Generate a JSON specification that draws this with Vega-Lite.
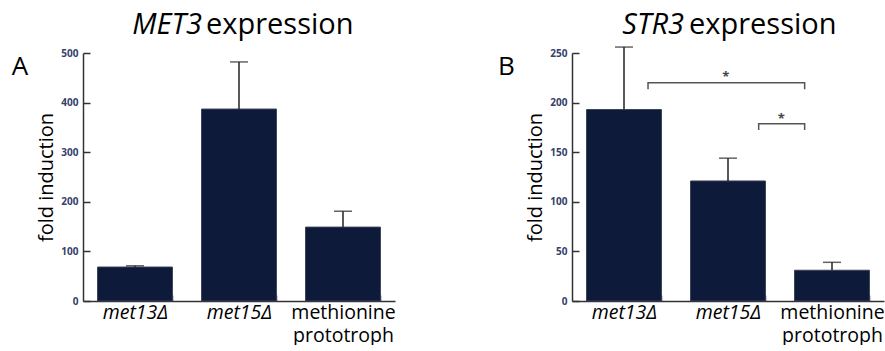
{
  "$schema": "https://vega.github.io/schema/vega-lite/v6.json",
  "background": "white",
  "padding": {"left": 11, "top": 11, "right": 0, "bottom": 0},
  "config": {
    "font": "Open Sans",
    "view": {"stroke": null},
    "concat": {"spacing": 102}
  },
  "hconcat": [
    {
      "width": 312,
      "height": 248,
      "layer": [
        {
          "data": {"values": [
            {"strain": "met13Δ", "fold": 68.5, "upper": 71},
            {"strain": "met15Δ", "fold": 387, "upper": 482},
            {"strain": "methionine prototroph", "fold": 149, "upper": 181}
          ]},
          "encoding": {
            "x": {"field": "strain", "type": "nominal", "sort": null,
              "scale": {"paddingInner": 0.28, "paddingOuter": 0.14},
              "axis": {"title": null, "labelAngle": 0, "domainColor": "#333", "domainWidth": 1.5, "tickColor": "#333", "tickWidth": 1.5, "tickSize": -6, "tickBand": "extent", "labelFontSize": 19.5, "labelColor": "#000", "labelPadding": 8, "labelLineHeight": 23.5, "labelExpr": "datum.value == 'methionine prototroph' ? ['methionine', 'prototroph'] : datum.value", "labelFontStyle": {"condition": {"test": "datum.value == 'methionine prototroph'", "value": "normal"}, "value": "italic"}}},
            "y": {"field": "fold", "type": "quantitative",
              "scale": {"domain": [0, 500], "nice": false},
              "axis": {"values": [0, 100, 200, 300, 400, 500], "grid": false, "title": "fold induction", "titleFontSize": 20, "titleFontWeight": "normal", "titleColor": "#000", "titlePadding": 4, "labelFontSize": 10, "labelFontWeight": "bold", "labelColor": "#34406a", "labelPadding": 12, "tickSize": -7, "tickWidth": 1.5, "tickColor": "#333", "domainColor": "#333", "domainWidth": 1.5}}
          },
          "layer": [
            {"mark": {"type": "bar", "color": "#0d1a3a", "stroke": "#3a4058", "strokeWidth": 1}},
            {"mark": {"type": "rule", "color": "#222", "strokeWidth": 1.5}, "encoding": {"y2": {"field": "upper"}}},
            {"mark": {"type": "tick", "color": "#222", "size": 18, "thickness": 1.5}, "encoding": {"y": {"field": "upper", "type": "quantitative"}}}
          ]
        },
        {
          "encoding": {
            "x": {"field": "q", "type": "quantitative", "scale": {"domain": [0, 3], "nice": false, "zero": false}, "axis": null},
            "y": {"field": "fold", "type": "quantitative"},
            "text": {"field": "t"}
          },
          "layer": [
            {"data": {"values": [{"t": "MET3", "q": 1.144, "fold": 538}]}, "mark": {"type": "text", "fontSize": 29, "fontStyle": "italic", "align": "right", "baseline": "alphabetic", "color": "#000"}},
            {"data": {"values": [{"t": "expression", "q": 1.183, "fold": 538}]}, "mark": {"type": "text", "fontSize": 29, "align": "left", "baseline": "alphabetic", "color": "#000"}},
            {"data": {"values": [{"t": "A", "q": -0.606, "fold": 455}]}, "mark": {"type": "text", "fontSize": 26, "align": "center", "baseline": "alphabetic", "color": "#000"}}
          ]
        }
      ],
      "resolve": {"scale": {"x": "independent"}, "axis": {"x": "independent"}}
    },
    {
      "width": 312,
      "height": 248,
      "layer": [
        {
          "data": {"values": [
            {"strain": "met13Δ", "fold": 193, "upper": 256},
            {"strain": "met15Δ", "fold": 121, "upper": 144},
            {"strain": "methionine prototroph", "fold": 31, "upper": 39}
          ]},
          "encoding": {
            "x": {"field": "strain", "type": "nominal", "sort": null,
              "scale": {"paddingInner": 0.28, "paddingOuter": 0.14},
              "axis": {"title": null, "labelAngle": 0, "domainColor": "#333", "domainWidth": 1.5, "tickColor": "#333", "tickWidth": 1.5, "tickSize": -6, "tickBand": "extent", "labelFontSize": 19.5, "labelColor": "#000", "labelPadding": 8, "labelLineHeight": 23.5, "labelExpr": "datum.value == 'methionine prototroph' ? ['methionine', 'prototroph'] : datum.value", "labelFontStyle": {"condition": {"test": "datum.value == 'methionine prototroph'", "value": "normal"}, "value": "italic"}}},
            "y": {"field": "fold", "type": "quantitative",
              "scale": {"domain": [0, 250], "nice": false},
              "axis": {"values": [0, 50, 100, 150, 200, 250], "grid": false, "title": "fold induction", "titleFontSize": 20, "titleFontWeight": "normal", "titleColor": "#000", "titlePadding": 4, "labelFontSize": 10, "labelFontWeight": "bold", "labelColor": "#34406a", "labelPadding": 12, "tickSize": -7, "tickWidth": 1.5, "tickColor": "#333", "domainColor": "#333", "domainWidth": 1.5}}
          },
          "layer": [
            {"mark": {"type": "bar", "color": "#0d1a3a", "stroke": "#3a4058", "strokeWidth": 1}},
            {"mark": {"type": "rule", "color": "#222", "strokeWidth": 1.5}, "encoding": {"y2": {"field": "upper"}}},
            {"mark": {"type": "tick", "color": "#222", "size": 18, "thickness": 1.5}, "encoding": {"y": {"field": "upper", "type": "quantitative"}}}
          ]
        },
        {
          "encoding": {
            "x": {"field": "q", "type": "quantitative", "scale": {"domain": [0, 3], "nice": false, "zero": false}, "axis": null},
            "y": {"field": "fold", "type": "quantitative"}
          },
          "layer": [
            {"data": {"values": [{"t": "STR3", "q": 1.077, "fold": 269}]}, "mark": {"type": "text", "fontSize": 29, "fontStyle": "italic", "align": "right", "baseline": "alphabetic", "color": "#000"}, "encoding": {"text": {"field": "t"}}},
            {"data": {"values": [{"t": "expression", "q": 1.125, "fold": 269}]}, "mark": {"type": "text", "fontSize": 29, "align": "left", "baseline": "alphabetic", "color": "#000"}, "encoding": {"text": {"field": "t"}}},
            {"data": {"values": [{"t": "B", "q": -0.63, "fold": 227.5}]}, "mark": {"type": "text", "fontSize": 26, "align": "center", "baseline": "alphabetic", "color": "#000"}, "encoding": {"text": {"field": "t"}}},
            {"data": {"values": [
              {"b": 1, "o": 1, "q": 0.731, "fold": 213.5},
              {"b": 1, "o": 2, "q": 0.731, "fold": 220},
              {"b": 1, "o": 3, "q": 2.237, "fold": 220},
              {"b": 1, "o": 4, "q": 2.237, "fold": 213.5},
              {"b": 2, "o": 1, "q": 1.795, "fold": 172.5},
              {"b": 2, "o": 2, "q": 1.795, "fold": 178.7},
              {"b": 2, "o": 3, "q": 2.237, "fold": 178.7},
              {"b": 2, "o": 4, "q": 2.237, "fold": 172.5}
            ]}, "mark": {"type": "line", "color": "#555", "strokeWidth": 1.5}, "encoding": {"detail": {"field": "b"}, "order": {"field": "o"}}},
            {"data": {"values": [{"t": "*", "q": 1.478, "fold": 229}, {"t": "*", "q": 2.013, "fold": 186.5}]}, "mark": {"type": "text", "fontSize": 13, "fontWeight": "bold", "align": "center", "baseline": "middle", "dy": 3, "color": "#444"}, "encoding": {"text": {"field": "t"}}}
          ]
        }
      ],
      "resolve": {"scale": {"x": "independent"}, "axis": {"x": "independent"}}
    }
  ]
}
